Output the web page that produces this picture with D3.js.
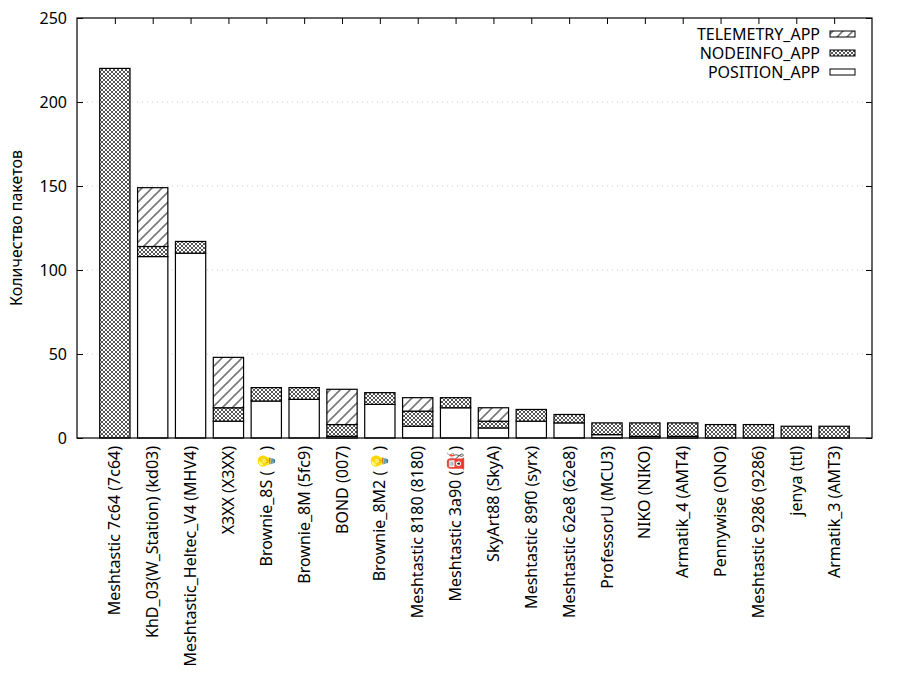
<!DOCTYPE html>
<html>
<head>
<meta charset="utf-8">
<script src="https://cdn.jsdelivr.net/npm/d3@7"></script>
<style>
body { margin: 0; background: #fff; }
text { font-family: 'Noto Sans', sans-serif; font-size: 16px; fill: #000; }
</style>
</head>
<body>
<div id="chart"></div>
<script>
//categories
var nodes = [
	'Meshtastic 7c64 (7c64)',
	'KhD_03(W_Station) (kd03)',
	'Meshtastic_Heltec_V4 (MHV4)',
	'X3XX (X3XX)',
	'Brownie_8S (💡)',
	'Brownie_8M (5fc9)',
	'BOND (007)',
	'Brownie_8M2 (💡)',
	'Meshtastic 8180 (8180)',
	'Meshtastic 3a90 (⛽)',
	'SkyArt88 (SkyA)',
	'Meshtastic 89f0 (syrx)',
	'Meshtastic 62e8 (62e8)',
	'ProfessorU (MCU3)',
	'NIKO (NIKO)',
	'Armatik_4 (AMT4)',
	'Pennywise (ONO)',
	'Meshtastic 9286 (9286)',
	'jenya (ttl)',
	'Armatik_3 (AMT3)'
];

//series values
var position  = [0, 108, 110, 10, 22, 23, 1, 20, 7, 18, 6, 10, 9, 2, 1, 1, 0, 0, 0, 0];
var nodeinfo  = [220, 6, 7, 8, 8, 7, 7, 7, 9, 6, 4, 7, 5, 7, 8, 8, 8, 8, 7, 7];
var telemetry = [0, 35, 0, 30, 0, 0, 21, 0, 8, 0, 8, 0, 0, 0, 0, 0, 0, 0, 0, 0];

var series = ['POSITION_APP', 'NODEINFO_APP', 'TELEMETRY_APP'];
var yTicks = [0, 50, 100, 150, 200, 250];

//table for the stack
var table = nodes.map((n, i) => ({
	name: n,
	POSITION_APP: position[i],
	NODEINFO_APP: nodeinfo[i],
	TELEMETRY_APP: telemetry[i]
}));

//plot box (window.top is taken, so other names)
var mLeft = 77, mRight = 872, mTop = 18, mBottom = 438;

var svg = d3.select('#chart')
			.append('svg')
			.attr('width', 900)
			.attr('height', 700);

//patterns
var defs = svg.append('defs');

var hatch = defs.append('pattern')
				.attr('id', 'hatch')
				.attr('patternUnits', 'userSpaceOnUse')
				.attr('width', 10)
				.attr('height', 10);
	hatch.append('rect').attr('width', 10).attr('height', 10).attr('fill', 'white');
	hatch.append('path')
		.attr('d', 'M-2,12L12,-2M-2,2L2,-2M8,12L12,8')
		.attr('stroke', '#777')
		.attr('stroke-width', 1.6);

var cross = defs.append('pattern')
				.attr('id', 'cross')
				.attr('patternUnits', 'userSpaceOnUse')
				.attr('width', 4)
				.attr('height', 4);
	cross.append('rect').attr('width', 4).attr('height', 4).attr('fill', 'white');
	cross.append('path')
		.attr('d', 'M0,0L4,4M4,0L0,4')
		.attr('stroke', '#444')
		.attr('stroke-width', 0.9);

var fills = {POSITION_APP: 'white', NODEINFO_APP: 'url(#cross)', TELEMETRY_APP: 'url(#hatch)'};

//scales
var x = d3.scaleLinear()
			.domain([0, nodes.length + 1])
			.range([mLeft, mRight]);

var y = d3.scaleLinear()
			.domain([0, 250])
			.range([mBottom, mTop]);

var barW = (x(1) - x(0)) * 0.8;

//grid
svg.append('g')
	.selectAll('line')
	.data(yTicks.filter(t => t > 0 && t < 250))
	.enter()
	.append('line')
	.attr('x1', mLeft)
	.attr('x2', mRight)
	.attr('y1', d => y(d))
	.attr('y2', d => y(d))
	.attr('stroke', '#ccc')
	.attr('stroke-width', 1)
	.attr('stroke-dasharray', '1,4');

//y axis left + mirror
var yAxis = svg.append('g')
				.attr('transform', `translate(${mLeft},0)`)
				.call(d3.axisLeft(y).tickValues(yTicks).tickSize(-6).tickPadding(10));
var yAxisR = svg.append('g')
				.attr('transform', `translate(${mRight},0)`)
				.call(d3.axisRight(y).tickValues(yTicks).tickSize(-6).tickFormat(''));

//x ticks on top (mirror)
var xTop = svg.append('g')
				.attr('transform', `translate(0,${mTop})`)
				.call(d3.axisTop(x).tickValues(d3.range(1, nodes.length + 1)).tickSize(-6).tickFormat(''));

[yAxis, yAxisR, xTop].forEach(g => {
	g.select('.domain').remove();
	g.selectAll('line').attr('stroke', 'black');
	g.selectAll('text').style('font-family', "'Noto Sans', sans-serif").style('font-size', '16px');
});

//stack
var stack = d3.stack().keys(series);
var layers = stack(table);

svg.append('g')
	.selectAll('g')
	.data(layers)
	.enter()
	.append('g')
	.attr('fill', d => fills[d.key])
	.selectAll('rect')
	.data(d => d.map((v, i) => ({v: v, i: i})).filter(e => e.v[1] > e.v[0]))
	.enter()
	.append('rect')
	.attr('x', e => x(e.i + 1) - barW / 2)
	.attr('width', barW)
	.attr('y', e => y(e.v[1]))
	.attr('height', e => y(e.v[0]) - y(e.v[1]))
	.attr('stroke', 'black')
	.attr('stroke-width', 1.2);

//border
svg.append('rect')
	.attr('x', mLeft)
	.attr('y', mTop)
	.attr('width', mRight - mLeft)
	.attr('height', mBottom - mTop)
	.attr('fill', 'none')
	.attr('stroke', 'black')
	.attr('stroke-width', 1.2);

//x labels
svg.append('g')
	.selectAll('text')
	.data(nodes)
	.enter()
	.append('text')
	.attr('transform', (d, i) => `translate(${x(i + 1)},${mBottom + 8}) rotate(-90)`)
	.attr('text-anchor', 'end')
	.attr('dy', '0.35em')
	.text(d => d);

//y label
svg.append('text')
	.attr('transform', `translate(22,${(mTop + mBottom) / 2}) rotate(-90)`)
	.attr('text-anchor', 'middle')
	.text('Количество пакетов');

//legend
var legendOrder = ['TELEMETRY_APP', 'NODEINFO_APP', 'POSITION_APP'];
var legend = svg.append('g')
				.selectAll('g')
				.data(legendOrder)
				.enter()
				.append('g')
				.attr('transform', (d, i) => `translate(0,${34 + i * 19})`);

	legend.append('text')
		.attr('x', 820)
		.attr('dy', '0.35em')
		.attr('text-anchor', 'end')
		.text(d => d);

	legend.append('rect')
		.attr('x', 830)
		.attr('y', -3)
		.attr('width', 25)
		.attr('height', 6)
		.attr('fill', d => fills[d])
		.attr('stroke', 'black')
		.attr('stroke-width', 1);
</script>
</body>
</html>
